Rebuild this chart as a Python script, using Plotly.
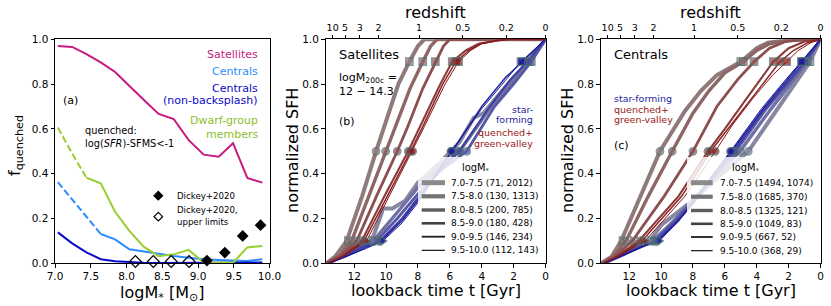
import numpy as np
import plotly.graph_objects as go

W, H = 831, 306
FONT = "DejaVu Sans"


def X(p):
    return p / W


def Y(p):
    return 1 - p / H


# ---------------- Panel (a) data ----------------
mstar = [7.04, 7.24, 7.44, 7.64, 7.84, 8.04, 8.24, 8.45, 8.66, 8.87, 9.08, 9.29, 9.49, 9.69, 9.90]
fq_sat = [0.970, 0.966, 0.934, 0.897, 0.854, 0.790, 0.730, 0.667, 0.644, 0.550, 0.485, 0.476, 0.536, 0.381, 0.360]
fq_cen = [0.362, 0.285, 0.210, 0.131, 0.107, 0.0625, 0.052, 0.042, 0.033, 0.025, 0.018, 0.015, 0.012, 0.010, 0.018]
fq_cen_nb = [0.138, 0.089, 0.049, 0.018, 0.009, 0.004, 0.002, 0.001, 0.001, 0.001, 0.001, 0.001, 0.002, 0.002, 0.004]
fq_dwarf = [0.606, 0.490, 0.382, 0.357, 0.230, 0.145, 0.074, 0.032, 0.040, 0.060, 0.004, 0.003, 0.003, 0.071, 0.077]
dash_end_cen = 3    # dashed up to this index (low-number bins)
dash_end_dwarf = 2
dickey_x = [9.125, 9.375, 9.625, 9.875]
dickey_y = [0.012, 0.048, 0.122, 0.170]
dickey_ul_x = [8.125, 8.375, 8.625, 8.875]
dickey_ul_y = [0.008, 0.008, 0.008, 0.008]

# ---------------- Panels (b),(c) data ----------------
mass_bins = ["7.0-7.5", "7.5-8.0", "8.0-8.5", "8.5-9.0", "9.0-9.5", "9.5-10.0"]
n_sat = ["(71, 2012)", "(130, 1313)", "(200, 785)", "(180, 428)", "(146, 234)", "(112, 143)"]
n_cen = ["(1494, 1074)", "(1685, 370)", "(1325, 121)", "(1049, 83)", "(667, 52)", "(368, 29)"]

z_labels = ["10", "5", "3", "2", "1", "0.5", "0.2", "0"]
z_lookback = [13.35, 12.57, 11.65, 10.47, 7.93, 5.19, 2.46, 0.0]

# Satellites, quenched+green-valley: lookback time [Gyr], normalized SFH
sat_q_t = [
    [13.75, 13.2, 12.47, 11.5, 10.63, 10.17, 9.23, 8.54, 8.0, 7.6, 0.0],
    [13.7, 13.0, 12.16, 11.1, 10.03, 9.5, 8.5, 7.7, 7.2, 6.8, 0.0],
    [13.7, 12.9, 11.84, 10.6, 9.3, 8.7, 7.7, 6.91, 6.4, 6.0, 0.0],
    [13.65, 12.8, 11.53, 10.1, 8.61, 7.8, 6.6, 5.85, 5.0, 4.2, 3.0, 2.3, 0.0],
    [13.65, 12.75, 11.38, 9.9, 8.46, 7.7, 6.45, 5.62, 4.8, 4.1, 3.0, 2.3, 0.0],
    [13.6, 12.7, 11.22, 9.8, 8.33, 7.6, 6.3, 5.45, 4.7, 4.0, 3.0, 2.3, 0.0],
]
sat_q_v = [
    [0, 0.03, 0.1, 0.3, 0.5, 0.6, 0.8, 0.9, 0.97, 1.0, 1.0],
    [0, 0.03, 0.1, 0.3, 0.5, 0.6, 0.78, 0.9, 0.97, 1.0, 1.0],
    [0, 0.03, 0.1, 0.3, 0.5, 0.6, 0.78, 0.9, 0.97, 1.0, 1.0],
    [0, 0.03, 0.1, 0.3, 0.5, 0.62, 0.8, 0.9, 0.95, 0.98, 0.995, 1.0, 1.0],
    [0, 0.03, 0.1, 0.3, 0.5, 0.61, 0.8, 0.9, 0.95, 0.98, 0.995, 1.0, 1.0],
    [0, 0.03, 0.1, 0.3, 0.5, 0.61, 0.8, 0.9, 0.95, 0.98, 0.995, 1.0, 1.0],
]
# Satellites, star-forming
sat_sf_t = [
    [13.7, 12.5, 11.5, 10.9, 10.3, 10.2, 9.6, 8.8, 8.0, 7.7, 6.6, 5.4, 4.5, 3.9, 2.0, 0.9, 0.0],
    [13.7, 12.7, 11.6, 10.8, 9.5, 8.1, 6.6, 5.4, 3.6, 2.2, 1.14, 0.0],
    [13.7, 12.6, 11.5, 10.6, 9.3, 8.0, 6.5, 4.94, 3.2, 2.0, 0.89, 0.0],
    [13.65, 12.5, 11.4, 10.4, 9.0, 7.9, 6.6, 5.4, 3.5, 2.2, 1.14, 0.0],
    [13.6, 12.5, 11.3, 10.3, 9.0, 7.9, 6.9, 5.85, 4.0, 2.5, 1.45, 0.0],
    [13.6, 12.5, 11.3, 10.2, 9.0, 7.9, 6.9, 5.9, 4.0, 2.5, 1.54, 0.0],
]
sat_sf_v = [
    [0, 0.04, 0.08, 0.1, 0.22, 0.245, 0.245, 0.28, 0.36, 0.38, 0.45, 0.54, 0.65, 0.67, 0.83, 0.91, 1.0],
    [0, 0.045, 0.085, 0.1, 0.21, 0.33, 0.43, 0.5, 0.68, 0.8, 0.9, 1.0],
    [0, 0.04, 0.08, 0.1, 0.2, 0.31, 0.42, 0.5, 0.7, 0.8, 0.9, 1.0],
    [0, 0.035, 0.075, 0.1, 0.2, 0.3, 0.42, 0.5, 0.7, 0.82, 0.9, 1.0],
    [0, 0.03, 0.07, 0.1, 0.19, 0.29, 0.395, 0.5, 0.7, 0.83, 0.9, 1.0],
    [0, 0.03, 0.065, 0.1, 0.18, 0.28, 0.39, 0.5, 0.69, 0.82, 0.9, 1.0],
]
# Centrals, quenched+green-valley
cen_q_t = [
    [13.75, 13.1, 12.5, 11.3, 10.07, 8.5, 7.5, 6.5, 5.0, 4.0, 3.3, 2.0, 0.0],
    [13.7, 13.0, 12.2, 10.8, 9.3, 8.0, 7.0, 6.0, 4.84, 4.0, 3.2, 2.0, 0.0],
    [13.65, 12.9, 11.8, 9.8, 8.0, 6.5, 5.2, 4.17, 3.2, 2.2, 1.0, 0.0],
    [13.6, 12.8, 11.4, 8.9, 7.06, 6.0, 4.8, 3.8, 2.96, 2.0, 1.0, 0.0],
    [13.6, 12.75, 11.2, 8.7, 6.89, 5.8, 4.5, 3.4, 2.54, 1.7, 0.8, 0.0],
    [13.6, 12.7, 11.0, 8.5, 6.6, 5.5, 4.2, 3.0, 2.12, 1.4, 0.6, 0.0],
]
cen_q_v = [
    [0, 0.03, 0.1, 0.3, 0.5, 0.68, 0.77, 0.84, 0.9, 0.96, 0.985, 0.997, 1.0],
    [0, 0.03, 0.1, 0.3, 0.5, 0.67, 0.77, 0.85, 0.9, 0.95, 0.98, 0.997, 1.0],
    [0, 0.03, 0.1, 0.3, 0.5, 0.7, 0.82, 0.9, 0.96, 0.99, 1.0, 1.0],
    [0, 0.03, 0.1, 0.3, 0.5, 0.6, 0.72, 0.82, 0.9, 0.96, 0.99, 1.0],
    [0, 0.03, 0.1, 0.3, 0.5, 0.6, 0.72, 0.82, 0.9, 0.95, 0.985, 1.0],
    [0, 0.03, 0.1, 0.3, 0.5, 0.62, 0.74, 0.84, 0.9, 0.95, 0.985, 1.0],
]
# Centrals, star-forming
cen_sf_t = [
    [13.6, 12.6, 11.5, 10.7, 10.0, 8.1, 6.5, 4.53, 3.0, 1.5, 0.66, 0.0],
    [13.6, 12.5, 11.4, 10.5, 9.2, 8.0, 6.6, 5.05, 3.2, 1.9, 0.83, 0.0],
    [13.6, 12.5, 11.3, 10.4, 9.1, 8.0, 6.7, 5.32, 3.4, 2.0, 0.9, 0.0],
    [13.6, 12.45, 11.25, 10.3, 9.0, 7.9, 6.7, 5.45, 3.5, 2.1, 1.0, 0.0],
    [13.6, 12.4, 11.2, 10.2, 8.9, 7.9, 6.8, 5.57, 3.6, 2.2, 1.15, 0.0],
    [13.6, 12.4, 11.1, 10.1, 8.9, 7.8, 6.8, 5.65, 3.7, 2.3, 1.2, 0.0],
]
cen_sf_v = [
    [0, 0.04, 0.08, 0.1, 0.17, 0.275, 0.38, 0.5, 0.66, 0.82, 0.9, 1.0],
    [0, 0.035, 0.075, 0.1, 0.19, 0.28, 0.39, 0.5, 0.68, 0.8, 0.9, 1.0],
    [0, 0.035, 0.075, 0.1, 0.19, 0.28, 0.39, 0.5, 0.69, 0.81, 0.9, 1.0],
    [0, 0.035, 0.075, 0.1, 0.19, 0.28, 0.39, 0.5, 0.69, 0.81, 0.9, 1.0],
    [0, 0.035, 0.075, 0.1, 0.19, 0.28, 0.39, 0.5, 0.69, 0.81, 0.9, 1.0],
    [0, 0.035, 0.075, 0.1, 0.19, 0.28, 0.39, 0.5, 0.69, 0.81, 0.9, 1.0],
]

# ---------------- styles ----------------
q_colors = ["#917a7a", "#8e6666", "#8c5050", "#8b3a3a", "#8b2525", "#8b1414"]
sf_colors = ["#8787a2", "#7070a4", "#5757a4", "#3f3fa3", "#2828a0", "#15159a"]
widths = [4.0, 3.4, 2.8, 2.1, 1.5, 1.0]
leg_colors = ["#8a8a8a", "#747474", "#5c5c5c", "#414141", "#1e1e1e", "#000000"]
leg_widths = [5.0, 4.2, 3.4, 2.6, 1.8, 1.1]
edge = "#4e6e6e"

fig = go.Figure()

# ---------------- Panel (a) traces ----------------
def add_a(y, color, dash_end=None):
    if dash_end is not None:
        fig.add_trace(go.Scatter(x=mstar[:dash_end + 1], y=y[:dash_end + 1], mode="lines",
                                 line=dict(color=color, width=2, dash="7px,3px"),
                                 xaxis="x", yaxis="y", showlegend=False, hoverinfo="skip"))
        xs, ys = mstar[dash_end:], y[dash_end:]
    else:
        xs, ys = mstar, y
    fig.add_trace(go.Scatter(x=xs, y=ys, mode="lines", line=dict(color=color, width=2),
                             xaxis="x", yaxis="y", showlegend=False, hoverinfo="skip"))


add_a(fq_sat, "#c8197f")
add_a(fq_cen, "#2b8cff", dash_end_cen)
add_a(fq_cen_nb, "#0a0ac8")
add_a(fq_dwarf, "#9acd32", dash_end_dwarf)
fig.add_trace(go.Scatter(x=dickey_x, y=dickey_y, mode="markers",
                         marker=dict(symbol="diamond", size=9, color="black"),
                         cliponaxis=False, xaxis="x", yaxis="y", showlegend=False, hoverinfo="skip"))
fig.add_trace(go.Scatter(x=dickey_ul_x, y=dickey_ul_y, mode="markers",
                         marker=dict(symbol="diamond-open", size=9, color="black", line=dict(width=1.2)),
                         cliponaxis=False, xaxis="x", yaxis="y", showlegend=False, hoverinfo="skip"))

# ---------------- Panels (b),(c) traces ----------------
def add_sfh(qt, qv, st, sv, xa, ya):
    for i in range(6):
        fig.add_trace(go.Scatter(x=st[i], y=sv[i], mode="lines",
                                 line=dict(color=sf_colors[i], width=widths[i]),
                                 xaxis=xa, yaxis=ya, showlegend=False, hoverinfo="skip"))
        fig.add_trace(go.Scatter(x=qt[i], y=qv[i], mode="lines",
                                 line=dict(color=q_colors[i], width=widths[i]),
                                 xaxis=xa, yaxis=ya, showlegend=False, hoverinfo="skip"))
    levels = [0.1, 0.5, 0.9]
    symbols = ["triangle-right", "circle", "square"]
    for i in range(6):
        for tt, vv, col in ((st[i], sv[i], sf_colors[i]), (qt[i], qv[i], q_colors[i])):
            tms = [float(np.interp(l, vv, tt)) for l in levels]
            fig.add_trace(go.Scatter(x=tms, y=levels, mode="markers",
                                     marker=dict(symbol=symbols, size=[8, 7.5, 7.5], color=col,
                                                 line=dict(color=edge, width=1.2)),
                                     xaxis=xa, yaxis=ya, showlegend=False, hoverinfo="skip"))


add_sfh(sat_q_t, sat_q_v, sat_sf_t, sat_sf_v, "x2", "y2")
add_sfh(cen_q_t, cen_q_v, cen_sf_t, cen_sf_v, "x3", "y3")

# invisible traces so the top redshift axes render
for xa, ya in (("x4", "y2"), ("x5", "y3")):
    fig.add_trace(go.Scatter(x=[0], y=[0], mode="markers", marker=dict(opacity=0),
                             xaxis=xa, yaxis=ya, showlegend=False, hoverinfo="skip"))

# ---------------- axes ----------------
ydom = [Y(263.3), Y(39.3)]
common = dict(showline=True, mirror=True, linecolor="black", linewidth=1, showgrid=False,
              zeroline=False, ticks="outside", ticklen=3.5, tickwidth=0.8, tickcolor="black",
              automargin=False,
              tickfont=dict(family=FONT, size=10.5, color="black"))
yticks = [0, 0.2, 0.4, 0.6, 0.8, 1.0]
yax = dict(range=[0, 1], tickvals=yticks, ticktext=["%.1f" % v for v in yticks], domain=ydom, **common)
tticks = [12, 10, 8, 6, 4, 2, 0]
xticks_a = [7.0, 7.5, 8.0, 8.5, 9.0, 9.5, 10.0]

topax = dict(side="top", range=[13.8, 0], ticks="outside", ticklen=3.5, tickwidth=0.8,
             tickcolor="black", showgrid=False, zeroline=False, showline=False, automargin=False,
             tickvals=z_lookback, ticktext=z_labels,
             tickfont=dict(family=FONT, size=9.5, color="black"))

fig.update_layout(
    width=W, height=H, margin=dict(l=0, r=0, t=0, b=0, pad=0), autosize=False,
    paper_bgcolor="white", plot_bgcolor="white",
    font=dict(family=FONT, color="black"),
    xaxis=dict(domain=[X(55), X(269.5)], range=[7, 10], anchor="y", tickvals=xticks_a,
               ticktext=["%.1f" % v for v in xticks_a], **common),
    yaxis=dict(anchor="x", **yax),
    xaxis2=dict(domain=[X(325.5), X(545.5)], range=[13.8, 0], anchor="y2", tickvals=tticks,
                ticktext=[str(v) for v in tticks], **common),
    yaxis2=dict(anchor="x2", **yax),
    xaxis3=dict(domain=[X(600.5), X(820.5)], range=[13.8, 0], anchor="y3", tickvals=tticks,
                ticktext=[str(v) for v in tticks], **common),
    yaxis3=dict(anchor="x3", **yax),
    xaxis4=dict(overlaying="x2", anchor="y2", **topax),
    xaxis5=dict(overlaying="x3", anchor="y3", **topax),
)

# ---------------- annotations / legend boxes ----------------
anns = []
shapes = []


def ann(text, x, y, xanchor="left", size=11, color="black", angle=0):
    anns.append(dict(text=text, x=X(x), y=Y(y), xref="paper", yref="paper", showarrow=False,
                     xanchor=xanchor, yanchor="middle", textangle=angle,
                     font=dict(family=FONT, size=size, color=color)))


# axis titles
ann("f<sub>quenched</sub>", 15, 146, "center", 16, angle=-90)
ann("logM<sub>*</sub> [M<sub>⊙</sub>]", 162, 293, "center", 16)
for cx, cy in ((292, 151), (567, 151)):
    ann("normalized SFH", cx, cy, "center", 16, angle=-90)
for cx in (435.5, 710.5):
    ann("lookback time t [Gyr]", cx, 290, "center", 16)
    ann("redshift", cx, 13, "center", 16)

# panel (a) texts
ann("Satellites", 259.5, 54.3, "right", 11, "#c8197f")
ann("Centrals", 259.5, 71, "right", 11, "#2b8cff")
ann("Centrals", 259.5, 88.3, "right", 11, "#0a0ac8")
ann("(non-backsplash)", 259.5, 100.7, "right", 11, "#0a0ac8")
ann("Dwarf-group", 259.5, 120.7, "right", 11, "#8cc02a")
ann("members", 259.5, 134, "right", 11, "#8cc02a")
ann("(a)", 61, 100.7, "left", 11)
ann("quenched:", 83, 130, "left", 9.8)
ann("log(<i>SFR</i>)-SFMS&lt;-1", 83, 143, "left", 9.8)
ann("Dickey+2020", 174.5, 195.7, "left", 8.6)
ann("Dickey+2020,", 174.5, 210.3, "left", 8.6)
ann("upper limits", 174.5, 221.5, "left", 8.6)


def diamond(cx, cy, r, filled):
    path = "M %f,%f L %f,%f L %f,%f L %f,%f Z" % (
        X(cx), Y(cy - r), X(cx + r), Y(cy), X(cx), Y(cy + r), X(cx - r), Y(cy))
    shapes.append(dict(type="path", path=path, xref="paper", yref="paper",
                       fillcolor="black" if filled else "white",
                       line=dict(color="black", width=1.2)))


diamond(158.3, 195.7, 4.3, True)
diamond(158.3, 216.7, 4.3, False)

# panel (b) texts
ann("Satellites", 336.5, 54, "left", 13)
ann("logM<sub>200c</sub> =", 336.5, 77.5, "left", 11)
ann("12 − 14.3", 336.5, 91.5, "left", 11)
ann("(b)", 336.5, 121.7, "left", 11)
ann("star-", 535, 109.5, "right", 9.5, "#1f1fa0")
ann("forming", 535, 120, "right", 9.5, "#1f1fa0")
ann("quenched+", 535, 132.7, "right", 9.5, "#9b1616")
ann("green-valley", 535, 143.3, "right", 9.5, "#9b1616")

# panel (c) texts
ann("Centrals", 611.5, 54.3, "left", 13)
ann("star-forming", 611.5, 98.3, "left", 9.5, "#1f1fa0")
ann("quenched+", 611.5, 109.3, "left", 9.5, "#9b1616")
ann("green-valley", 611.5, 120, "left", 9.5, "#9b1616")
ann("(c)", 611.5, 145, "left", 11)

# legends (drawn manually)
rows_b = [182.7, 196.3, 210, 223.3, 236.7, 250.3]
rows_c = [182.7, 196.7, 210.5, 223.8, 237, 250.7]
for (bx0, bx1, lx0, lx1, tx, titx, rows, labels) in (
        (418, 544, 421.7, 445, 449.3, 475, rows_b, n_sat),
        (687, 819.5, 691, 712.7, 718.3, 745, rows_c, n_cen)):
    shapes.append(dict(type="rect", xref="paper", yref="paper", x0=X(bx0), x1=X(bx1),
                       y0=Y(259), y1=Y(157), fillcolor="rgba(255,255,255,0.82)",
                       line=dict(width=0), layer="above"))
    ann("logM<sub>*</sub>", titx, 168.5, "center", 9.8)
    for i in range(6):
        shapes.append(dict(type="line", xref="paper", yref="paper", x0=X(lx0), x1=X(lx1),
                           y0=Y(rows[i]), y1=Y(rows[i]),
                           line=dict(color=leg_colors[i], width=leg_widths[i]), layer="above"))
        ann(mass_bins[i] + " " + labels[i], tx, rows[i], "left", 9)

fig.update_layout(annotations=anns, shapes=shapes)
fig.write_html("out.html", config={"displayModeBar": False},
               post_script="document.body.style.margin='0px';document.body.style.overflow='hidden';")
